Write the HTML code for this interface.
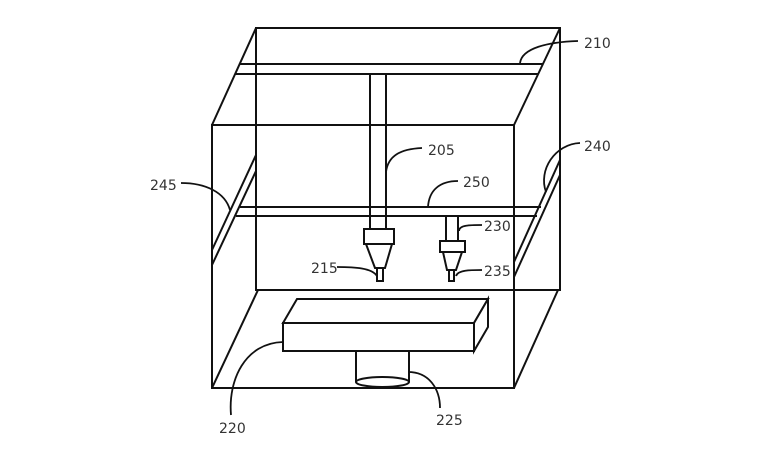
<!DOCTYPE html>
<html><head><style>
html,body{margin:0;padding:0;background:#fff;}
svg{display:block;}
text{font-family:"DejaVu Sans","Liberation Sans",sans-serif;font-size:14px;fill:#333;}
</style></head><body>
<svg width="760" height="450" viewBox="0 0 760 450" xmlns="http://www.w3.org/2000/svg">
<g fill="none" stroke="#111" stroke-width="2" stroke-linejoin="miter">
<!-- back box -->
<rect x="256" y="28" width="304" height="262"/>
<!-- front box -->
<rect x="212" y="125" width="302" height="263"/>
<line x1="212" y1="125" x2="256" y2="28"/>
<line x1="514" y1="125" x2="560" y2="28"/>
<line x1="212" y1="388" x2="258" y2="290"/>
<line x1="514" y1="388" x2="558" y2="290"/>
<!-- rail 210 -->
<line x1="240" y1="64" x2="543" y2="64"/>
<line x1="235" y1="74" x2="538" y2="74"/>
<!-- rod 205 -->
<line x1="370" y1="74" x2="370" y2="229"/>
<line x1="386" y1="74" x2="386" y2="229"/>
<!-- side rails -->
<line x1="256" y1="155" x2="212" y2="250"/>
<line x1="256" y1="171" x2="212" y2="265"/>
<line x1="560" y1="160" x2="514" y2="262"/>
<line x1="560" y1="175" x2="514" y2="277"/>
<!-- rail 250 -->
<line x1="240" y1="207" x2="541" y2="207"/>
<line x1="236" y1="216" x2="537" y2="216"/>
<!-- head 215 -->
<rect x="364" y="229" width="30" height="15" fill="#fff"/>
<polygon points="366,244 392,244 385,268 375,268" fill="#fff"/>
<rect x="377" y="268" width="6" height="13" fill="#fff"/>
<!-- head 230 -->
<rect x="446" y="216" width="12" height="25" fill="#fff"/>
<rect x="440" y="241" width="25" height="11" fill="#fff"/>
<polygon points="443,252 462,252 456,270 447,270" fill="#fff"/>
<rect x="449" y="270" width="5" height="11" fill="#fff"/>
<!-- platform 220 -->
<polygon points="283,323 297,299 488,299 474,323" fill="#fff"/>
<polygon points="474,323 488,299 488,327 474,351" fill="#fff"/>
<rect x="283" y="323" width="191" height="28" fill="#fff"/>
<!-- cylinder 225 -->
<path d="M356,351 L356,382 M409,351 L409,382"/>
<ellipse cx="382.5" cy="382" rx="26.5" ry="5" fill="#fff"/>
<!-- leaders -->
<g stroke-width="1.8">
<path d="M520,63 C522,48 548,42 578,41"/>
<path d="M386,172 C388,156 400,149 422,148"/>
<path d="M428,207 C429,190 440,181 458,181"/>
<path d="M546,192 C538,170 555,144 580,143"/>
<path d="M181,183 C205,183 225,192 230,210"/>
<path d="M337,267 C355,267 372,268 377,276"/>
<path d="M459,231 C459,225 470,225 482,225"/>
<path d="M456,276 C458,270 470,270 482,270"/>
<path d="M231,415 C228,380 245,343 283,342"/>
<path d="M408,372 C430,372 440,390 440,408"/>
</g>
</g>
<text x="584" y="48">210</text>
<text x="428" y="155">205</text>
<text x="463" y="187">250</text>
<text x="584" y="151">240</text>
<text x="150" y="190">245</text>
<text x="311" y="273">215</text>
<text x="484" y="231">230</text>
<text x="484" y="276">235</text>
<text x="219" y="433">220</text>
<text x="436" y="425">225</text>
</svg>
</body></html>
